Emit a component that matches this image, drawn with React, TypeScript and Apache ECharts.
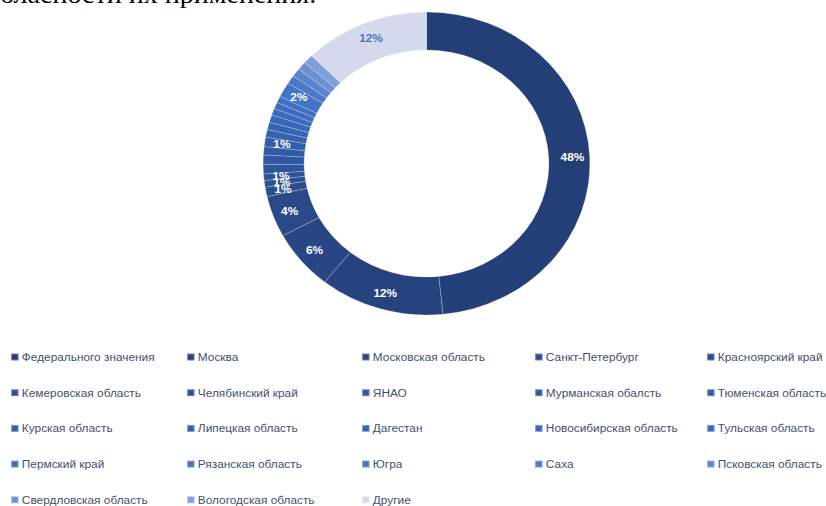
import React, { useEffect, useRef } from "react";
import * as echarts from "echarts";

const regions = [
  "Федерального значения",
  "Москва",
  "Московская область",
  "Санкт-Петербург",
  "Красноярский край",
  "Кемеровская область",
  "Челябинский край",
  "ЯНАО",
  "Мурманская обалсть",
  "Тюменская область",
  "Курская область",
  "Липецкая область",
  "Дагестан",
  "Новосибирская область",
  "Тульская область",
  "Пермский край",
  "Рязанская область",
  "Югра",
  "Саха",
  "Псковская область",
  "Свердловская область",
  "Вологодская область",
  "Другие",
];

const shares = [
  48.4, 12.3, 6.4, 4.4, 1.0, 0.7, 0.7, 1.0, 1.0, 0.9, 1.0, 0.8, 0.8, 0.8, 0.7,
  0.7, 0.7, 1.6, 0.9, 0.9, 0.9, 1.0, 12.4,
];

const colors = [
  "#243f77", "#26437e", "#284683", "#2a4988", "#2b4c8e", "#2c4f93",
  "#2d5298", "#2e559d", "#3058a2", "#315ba7", "#335eac", "#3461b0",
  "#3664b4", "#3867b8", "#3a6abc", "#3c6dc0", "#3f70c4", "#4273c7",
  "#4a79c9", "#5a84cd", "#6c91d3", "#7f9fd8", "#d4daeb",
];

const labeledRegions = [
  "Федерального значения",
  "Москва",
  "Московская область",
  "Санкт-Петербург",
  "Красноярский край",
  "Кемеровская область",
  "Челябинский край",
  "Курская область",
  "Югра",
  "Другие",
];

const headerText = "бласности их применения.";

const SX = 1.0783;

export default function App() {
  const ref = useRef<HTMLDivElement>(null);

  useEffect(() => {
    const chart = echarts.init(ref.current!, null, { renderer: "svg" });
    const columns = 5;
    const colLeft = [10, 186, 361, 534, 706];
    const legends = colLeft.map((x, c) => ({
      orient: "vertical",
      left: x / SX,
      top: 351,
      height: 160,
      padding: 0,
      itemGap: 23.7,
      itemWidth: 7,
      itemHeight: 7,
      icon: "rect",
      selectedMode: false,
      data: regions.filter((_, i) => i % columns === c),
      textStyle: {
        fontSize: 11,
        color: "#3e4f73",
        fontFamily: "'Liberation Sans', Arial, sans-serif",
        lineHeight: 12,
        padding: [0, 0, 0, -2],
      },
    }));

    const data = regions.map((name, i) => ({
      name,
      value: shares[i],
      itemStyle: { color: colors[i] },
      label: {
        show: labeledRegions.includes(name),
        color: name === "Другие" ? "#4a74c4" : "#ffffff",
      },
    }));

    chart.setOption({
      animation: false,
      legend: legends,
      graphic: [
        {
          type: "text",
          left: 0,
          top: -19,
          style: {
            text: headerText,
            font: "26px 'Liberation Serif', 'Times New Roman', serif",
            fill: "#000000",
          },
        },
      ],
      series: [
        {
          type: "pie",
          center: [426.5 / SX, 163.5],
          radius: [113.5, 151.5],
          startAngle: 90,
          clockwise: true,
          avoidLabelOverlap: false,
          silent: true,
          data,
          itemStyle: {
            borderColor: "rgba(255,255,255,0.35)",
            borderWidth: 0.6,
          },
          label: {
            position: "inside",
            fontSize: 11,
            fontWeight: "bold",
            fontFamily: "'Liberation Sans', Arial, sans-serif",
            formatter: (p: any) => Math.round(p.percent) + "%",
          },
          labelLayout: { hideOverlap: false },
          labelLine: { show: false },
        },
      ],
    });

    return () => chart.dispose();
  }, []);

  return (
    <div
      ref={ref}
      style={{
        position: "fixed",
        left: 0,
        top: 0,
        width: 826 / SX,
        height: 506,
        transform: `scaleX(${SX})`,
        transformOrigin: "0 0",
        background: "#ffffff",
      }}
    />
  );
}
